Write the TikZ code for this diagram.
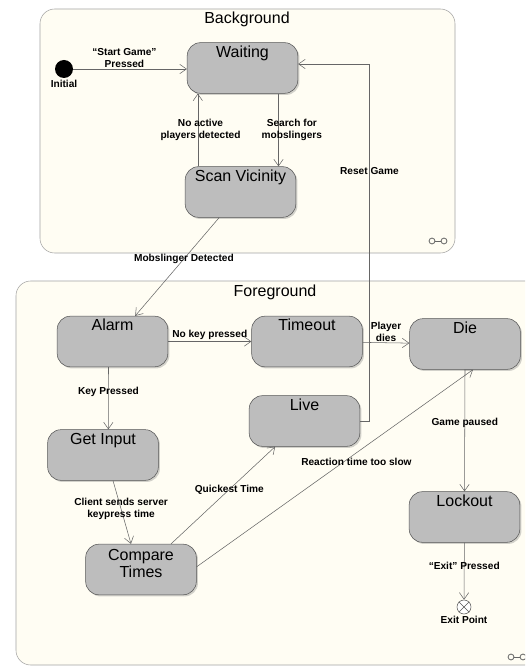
\documentclass[tikz,border=0pt]{standalone}
\usepackage{fontspec}
\setmainfont{Liberation Sans}
\usetikzlibrary{arrows.meta,positioning,calc,shadows}
\definecolor{paneBg}{HTML}{FFFDF3}
\definecolor{paneLine}{HTML}{A4A4A4}
\definecolor{stateFill}{HTML}{BDBDBD}
\definecolor{stateLine}{HTML}{555555}
\definecolor{wire}{HTML}{666666}

\begin{document}
\begin{tikzpicture}[
    x=0.75pt, y=-0.75pt,
    pane/.style={draw=paneLine, fill=paneBg, rounded corners=11pt},
    title/.style={font=\fontsize{12}{14}\selectfont},
    state/.style={rectangle, rounded corners=10pt, draw=stateLine, fill=stateFill,
        minimum width=83pt, minimum height=38pt, inner ysep=0pt,
        text height=11pt, text depth=27pt, font=\fontsize{12}{14}\selectfont,
        drop shadow={shadow xshift=1.2pt, shadow yshift=-1.2pt, opacity=0.35}},
    lbl/.style={font=\fontsize{7.6}{8.6}\selectfont\bfseries, align=center, inner sep=1pt},
    arr/.style={draw=wire, -{Straight Barb[length=5pt, width=7pt]}},
    link/.style={draw=wire, line width=0.6pt}
]
    \clip (0,0) rectangle (525,666);
    \fill[white] (0,0) rectangle (525,666);

    % containers
    \draw[pane] (40,9) rectangle (455,253);
    \node[title] (bgtitle) at (247,19) {Background};
    \draw[pane] (16,281) rectangle (545,665);
    \node[title] (fgtitle) at (275,292) {Foreground};
    \foreach \cx/\cy in {438/241, 517/657} {
        \draw[link] (\cx-6,\cy) circle[radius=2.2pt] (\cx+6,\cy) circle[radius=2.2pt];
        \draw[link] (\cx-3,\cy) -- (\cx+3,\cy);
    }

    % background states
    \node[circle, fill=black, minimum size=13.5pt, inner sep=0pt,
          label={[lbl]below:Initial}] (init) at (64,69) {};
    \node[state] (wait) at (242.5,68) {Waiting};
    \node[state] (scan) at (240.5,192) {Scan Vicinity};

    % foreground states
    \node[state] (alarm) at (112.5,341.5) {Alarm};
    \node[state] (timeout) at (307,341.5) {Timeout};
    \node[state] (die) at (465,344) {Die};
    \node[state] (live) at (304.5,421) {Live};
    \node[state] (input) at (103,455) {Get Input};
    \node[state, align=center, text height=25pt, text depth=13pt] (compare) at (141,569.5) {Compare\\[-1pt]Times};
    \node[state] (lockout) at (464.5,517) {Lockout};
    \node[circle, draw=stateLine, fill=white, minimum size=10.5pt, inner sep=0pt,
          label={[lbl]below:Exit Point}] (exit) at (464,607) {};
    \draw[stateLine] (exit.north east) -- (exit.south west) (exit.north west) -- (exit.south east);

    % transitions
    \draw[arr] (init) -- node[lbl, above, pos=0.45] {``Start Game''\\Pressed} (init -| wait.west);
    \draw[arr] ([xshift=27pt]wait.south) -- node[lbl, pos=0.5, xshift=10pt] {Search for\\mobslingers} ([xshift=27pt]wait.south |- scan.north);
    \draw[arr] ([xshift=-32pt]scan.north) -- node[lbl, pos=0.5, xshift=2pt] {No active\\players detected} ([xshift=-32pt]scan.north |- wait.south);
    \draw[arr] (live.east) -- ++(7pt,0) |- node[lbl, pos=0.35] {Reset Game} ([yshift=3pt]wait.east);
    \draw[arr] ([xshift=-16pt]scan.south) -- node[lbl, pos=0.42] {Mobslinger Detected} ([xshift=17pt]alarm.north);
    \draw[arr] (alarm) -- node[lbl, above] {No key pressed} (timeout);
    \draw[arr] (timeout) -- node[lbl, above] {Player\\dies} (die);
    \draw[arr] ([xshift=-3pt]alarm.south) -- node[lbl, pos=0.4] {Key Pressed} ([xshift=4pt]input.north);
    \draw[arr] ([xshift=7.5pt]input.south) -- node[lbl, pos=0.45] {Client sends server\\keypress time} ([xshift=-7.5pt]compare.north);
    \draw[arr] ([xshift=22.5pt]compare.north) -- node[lbl, pos=0.56] {Quickest Time} ([xshift=-22pt]live.south);
    \draw[arr] ([yshift=2pt]compare.east) -- node[lbl, pos=0.53, xshift=10pt] {Reaction time too slow} ([xshift=6pt]die.south);
    \draw[arr] (die.south) -- node[lbl, pos=0.44] {Game paused} (lockout.north);
    \draw[arr] (lockout) -- node[lbl, pos=0.41] {``Exit'' Pressed} (exit);
\end{tikzpicture}
\end{document}
